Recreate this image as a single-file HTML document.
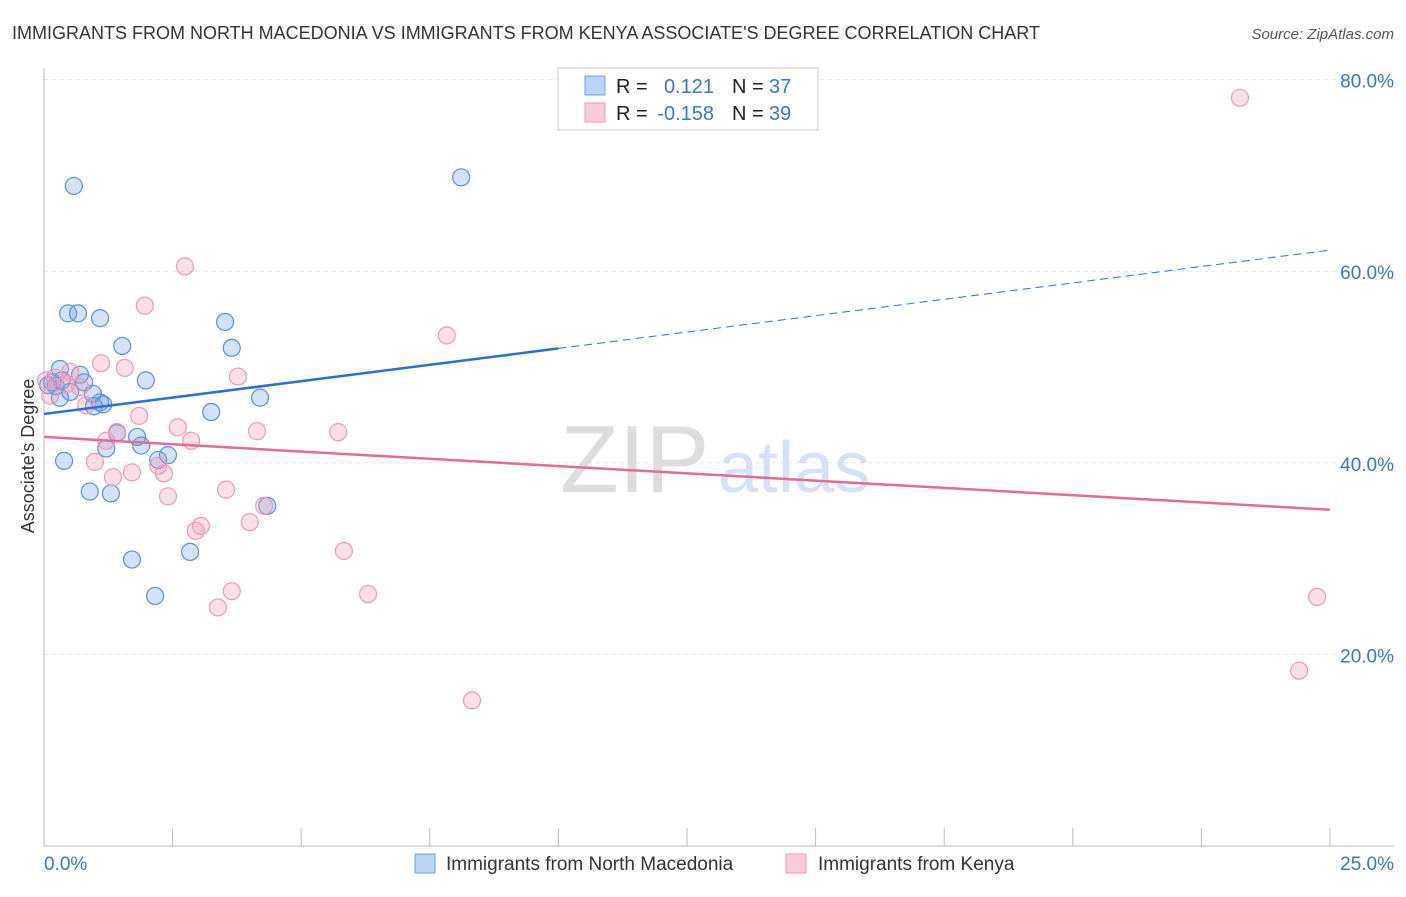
<!DOCTYPE html>
<html><head><meta charset="utf-8"><style>
body{margin:0;background:#fff;font-family:"Liberation Sans",sans-serif}
svg text{font-family:"Liberation Sans",sans-serif}
</style></head><body>
<svg id="chart" width="1406" height="892" xmlns="http://www.w3.org/2000/svg">
<text x="12" y="39" font-size="18" fill="#333">IMMIGRANTS FROM NORTH MACEDONIA VS IMMIGRANTS FROM KENYA ASSOCIATE'S DEGREE CORRELATION CHART</text>
<text x="1394" y="39" font-size="15" fill="#555" font-style="italic" text-anchor="end">Source: ZipAtlas.com</text>
<g id="grid"></g>
<text x="560" y="492" font-size="96" fill="#ddd" font-family="Liberation Serif">ZIP</text>
<text x="718" y="492" font-size="72" fill="#d6e2f3">atlas</text>
<g id="axes"></g>
<g id="marks"></g>
<text transform="translate(34,456) rotate(-90)" font-size="18" fill="#333" text-anchor="middle">Associate's Degree</text>
<g>
<rect x="558" y="68" width="260" height="62" fill="#fff" stroke="#ccc"/>
<rect x="585" y="76" width="20" height="19" fill="#b9d3f5" stroke="#6d9fe0"/>
<rect x="585" y="103" width="20" height="19" fill="#fbcbd9" stroke="#ee9ab7"/>
<text x="616" y="93" font-size="20" fill="#222">R = </text><text x="714" y="93" font-size="20" fill="#3b73d1" text-anchor="end">0.121</text>
<text x="732" y="93" font-size="20" fill="#222">N = </text><text x="769" y="93" font-size="20" fill="#3b73d1">37</text>
<text x="616" y="120" font-size="20" fill="#222">R = </text><text x="714" y="120" font-size="20" fill="#3b73d1" text-anchor="end">-0.158</text>
<text x="732" y="120" font-size="20" fill="#222">N = </text><text x="769" y="120" font-size="20" fill="#3b73d1">39</text>
</g>
<g>
<rect x="415" y="854" width="20" height="19" fill="#b9d3f5" stroke="#6d9fe0"/>
<text x="446" y="870" font-size="19" fill="#333">Immigrants from North Macedonia</text>
<rect x="786" y="854" width="20" height="19" fill="#fbcbd9" stroke="#ee9ab7"/>
<text x="818" y="870" font-size="19" fill="#333">Immigrants from Kenya</text>
</g>
</svg>
<script>
const yTicks=[20,40,60,80];
const yTickLabels=["20.0%","40.0%","60.0%","80.0%"];
const xMinLabel="0.0%", xMaxLabel="25.0%";
const blueX=[0.58,8.11,0.47,0.66,1.09,3.52,1.52,3.65,1.98,0.31,0.70,0.16,0.23,0.78,0.95,1.09,1.15,0.31,3.25,4.20,1.42,1.81,1.89,1.21,2.22,2.41,0.39,0.89,1.30,4.34,1.71,2.84,2.16,0.08,0.35,0.51,0.97];
const blueY=[68.9,69.8,55.6,55.6,55.1,54.7,52.2,52.0,48.6,49.8,49.2,48.4,48.0,48.4,47.2,46.3,46.1,46.8,45.3,46.8,43.1,42.7,41.8,41.5,40.3,40.8,40.2,37.0,36.8,35.5,29.9,30.7,26.1,48.1,48.6,47.4,45.9];
const pinkX=[23.25,2.74,1.96,7.83,1.11,1.57,0.51,0.21,0.04,0.43,0.12,0.82,3.77,1.85,2.60,2.86,1.42,1.21,4.14,5.72,0.99,1.71,2.33,2.22,1.34,2.41,3.54,2.95,3.05,4.00,4.28,5.83,3.65,3.38,6.30,8.32,24.75,24.40,0.70];
const pinkY=[78.1,60.5,56.4,53.3,50.4,49.9,49.5,48.9,48.6,48.2,47.0,46.0,49.0,44.9,43.7,42.3,43.2,42.3,43.3,43.2,40.1,39.0,38.9,39.7,38.5,36.5,37.2,32.9,33.4,33.8,35.5,30.8,26.6,24.9,26.3,15.2,26.0,18.3,47.9];
const blueTrend=[45.1,62.2];
const pinkTrend=[42.7,35.1];
const blueSolidEnd=10;

const NS="http://www.w3.org/2000/svg";
const X=v=>44+v*(1330-44)/25;
const Y=v=>846-v*9.58;
function el(tag,attrs,parent){const e=document.createElementNS(NS,tag);for(const k in attrs)e.setAttribute(k,attrs[k]);parent.appendChild(e);return e;}
const grid=document.getElementById('grid'),axes=document.getElementById('axes'),marks=document.getElementById('marks');
yTicks.forEach((t,i)=>{
  const g=el('line',{x1:44,x2:1394,y1:Y(t),y2:Y(t),stroke:'#e4e4e4','stroke-dasharray':'4,4'},grid);
  
  
  const tx=el('text',{x:1394,y:Y(t)+8,'font-size':19,fill:'#3b73d1','text-anchor':'end'},axes);
  tx.textContent=yTickLabels[i];
  
  
});
el('line',{x1:44,x2:44,y1:68,y2:846,stroke:'#bbb'},axes);
el('line',{x1:44,x2:1394,y1:846,y2:846,stroke:'#bbb'},axes);
for(let i=1;i<=10;i++){el('line',{x1:X(i*2.5),x2:X(i*2.5),y1:828,y2:846,stroke:'#bbb'},axes);}
let t1=el('text',{x:44,y:870,'font-size':19,fill:'#3b73d1'},axes);t1.textContent=xMinLabel;


let t2=el('text',{x:1394,y:870,'font-size':19,fill:'#3b73d1','text-anchor':'end'},axes);t2.textContent=xMaxLabel;


blueX.forEach((v,i)=>{const c=el('circle',{cx:X(v),cy:Y(blueY[i]),r:8.5,fill:'rgba(110,160,230,0.3)',stroke:'#5b8fd8','stroke-width':1.2},marks);

});
pinkX.forEach((v,i)=>{const c=el('circle',{cx:X(v),cy:Y(pinkY[i]),r:8.5,fill:'rgba(240,150,180,0.3)',stroke:'#ea9ab6','stroke-width':1.2},marks);

});
const by=x=>blueTrend[0]+(blueTrend[1]-blueTrend[0])*x/25;
let l1=el('line',{x1:X(0),y1:Y(by(0)),x2:X(blueSolidEnd),y2:Y(by(blueSolidEnd)),stroke:'#2a6fd6','stroke-width':2.5},marks);


let l2=el('line',{x1:X(blueSolidEnd),y1:Y(by(blueSolidEnd)),x2:X(25),y2:Y(by(25)),stroke:'#2a6fd6','stroke-width':1,'stroke-dasharray':'8,5'},marks);


let l3=el('line',{x1:X(0),y1:Y(pinkTrend[0]),x2:X(25),y2:Y(pinkTrend[1]),stroke:'#e56a95','stroke-width':2.5},marks);


</script>
</body></html>
